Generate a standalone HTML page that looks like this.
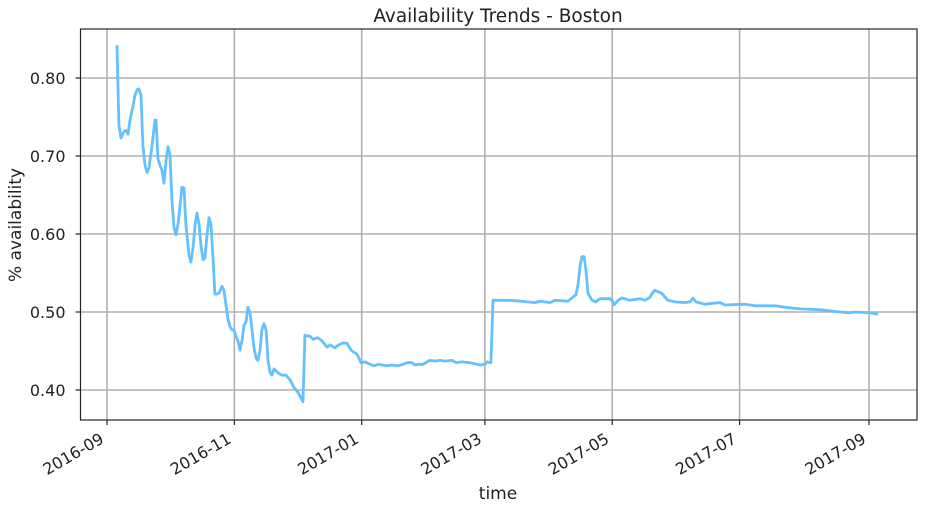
<!DOCTYPE html>
<html><head><meta charset="utf-8"><style>
body{margin:0;background:#fff}
svg text{font-family:"DejaVu Sans","Liberation Sans",sans-serif;fill:#222}
</style></head><body>
<svg id="chart" width="927" height="510" xmlns="http://www.w3.org/2000/svg">
<g id="grid"></g>
<g id="series"></g>
<rect x="80.5" y="29" width="836.5" height="391" fill="none" stroke="#262626" stroke-width="1.2"/>
<g id="axes"></g>
<text x="498" y="22" text-anchor="middle" font-size="18.5">Availability Trends - Boston</text>
<text x="498" y="499" text-anchor="middle" font-size="17">time</text>
<text transform="translate(21,225) rotate(-90)" text-anchor="middle" font-size="17">% availability</text>
</svg>
<script>
const days=[4.8,5.7,6.7,8.1,9.1,10.1,11,12.5,13.4,14.4,15.3,16.3,17.2,18.2,19.2,20.1,21.6,23,23.5,24.4,25.4,26.3,27.3,28.3,29.2,30.2,31.1,32.1,33,34,35,35.9,36.9,37.8,39.3,40.2,41.2,42.2,43.1,44.1,45,46,46.9,47.9,48.9,49.8,50.8,51.7,52.7,53.6,55.1,56,57,58,58.9,59.9,60.8,61.8,62.8,63.7,64.7,65.6,66.6,67.5,68.5,69.5,70.4,71.4,72.3,73.3,74.2,75.2,76.2,77.1,78.1,79,80,81.9,83.8,85.7,87.7,89.6,91.5,93.4,93.9,94.8,97.2,98.7,101,103,105.4,106.8,109.2,110.6,112.6,115,116.4,117.4,119.7,121.7,123.6,126,127.9,129.8,131.7,134.1,136.5,139.4,141.8,143.7,146.1,147.5,149.4,151.4,153.3,154.7,157.1,159.5,161.9,165.2,167.2,170,173.9,178.7,181,182,183.9,184.9,186.8,193,197.8,205,207.4,212.2,214.6,220.8,222.7,224.6,225.6,226.6,227.5,228.5,229.4,230.4,232.3,234.2,236.1,240.9,242.4,242.9,244.8,246.7,250.5,255.3,257.7,260.1,261.1,262.5,263.9,265.8,267.3,268.7,272.1,276.9,279.3,280.7,282.1,286.4,293.6,296,305.6,310.4,320,324.8,332,341.5,351.1,355.9,358.3,365.5,369.3];
const values=[0.842,0.740,0.723,0.731,0.733,0.728,0.746,0.765,0.778,0.785,0.786,0.778,0.714,0.688,0.679,0.685,0.714,0.746,0.746,0.697,0.688,0.682,0.665,0.695,0.712,0.701,0.644,0.608,0.599,0.612,0.637,0.660,0.659,0.612,0.573,0.564,0.582,0.612,0.627,0.612,0.586,0.567,0.569,0.599,0.621,0.612,0.567,0.523,0.523,0.524,0.533,0.528,0.509,0.490,0.481,0.477,0.477,0.469,0.462,0.451,0.464,0.483,0.487,0.506,0.499,0.477,0.454,0.441,0.438,0.451,0.477,0.485,0.477,0.438,0.423,0.419,0.427,0.422,0.419,0.419,0.413,0.403,0.397,0.387,0.385,0.470,0.469,0.465,0.467,0.463,0.455,0.458,0.454,0.457,0.460,0.460,0.453,0.450,0.446,0.435,0.436,0.433,0.431,0.433,0.432,0.431,0.432,0.431,0.433,0.435,0.435,0.432,0.433,0.433,0.436,0.438,0.437,0.438,0.437,0.438,0.435,0.436,0.435,0.432,0.433,0.436,0.435,0.515,0.515,0.515,0.514,0.512,0.514,0.512,0.515,0.514,0.518,0.522,0.535,0.560,0.571,0.571,0.554,0.524,0.515,0.513,0.517,0.517,0.513,0.509,0.515,0.518,0.515,0.517,0.515,0.519,0.524,0.528,0.526,0.524,0.519,0.515,0.513,0.512,0.513,0.518,0.513,0.510,0.512,0.509,0.510,0.508,0.508,0.506,0.504,0.503,0.500,0.499,0.500,0.499,0.497];
const yTicks=[0.40,0.50,0.60,0.70,0.80];
const xTickDays=[0,61,122,181,242,303,365];
const xTickLabels=["2016-09","2016-11","2017-01","2017-03","2017-05","2017-07","2017-09"];
const NS="http://www.w3.org/2000/svg";
const L=80.5,R=917,T=29,B=420;
function xs(d){return 107+d*2.0877;}
function ys(v){return 390-(v-0.4)*780;}
function mk(tag,attrs,parent){const e=document.createElementNS(NS,tag);for(const k in attrs)e.setAttribute(k,attrs[k]);parent.appendChild(e);return e;}
const grid=document.getElementById('grid'),axes=document.getElementById('axes'),series=document.getElementById('series');
yTicks.forEach(v=>{const y=ys(v);
 const g=mk('line',{x1:L,x2:R,y1:y,y2:y,stroke:'#b0b0b0','stroke-width':1.6},grid);
 
 
 const t=mk('line',{x1:L-5,x2:L,y1:y,y2:y,stroke:'#262626','stroke-width':1.2},axes);
 
 
 const tx=mk('text',{x:L-15,y:y+6,'text-anchor':'end','font-size':16},axes);
 tx.textContent=v.toFixed(2);
 
 
});
xTickDays.forEach((d,i)=>{const x=xs(d);
 const g=mk('line',{x1:x,x2:x,y1:T,y2:B,stroke:'#b0b0b0','stroke-width':1.6},grid);
 
 
 const t=mk('line',{x1:x,x2:x,y1:B,y2:B+5,stroke:'#262626','stroke-width':1.2},axes);
 
 
 const tx=mk('text',{transform:`translate(${x-2},${B+22}) rotate(-30)`,'text-anchor':'end','font-size':16},axes);
 tx.textContent=xTickLabels[i];
 
 
});
const p=mk('path',{d:days.map((d,i)=>(i?'L':'M')+xs(d).toFixed(1)+','+ys(values[i]).toFixed(1)).join(''),fill:'none',stroke:'#64c1ff','stroke-width':2.8,'stroke-linejoin':'round'},series);


</script>
</body></html>
